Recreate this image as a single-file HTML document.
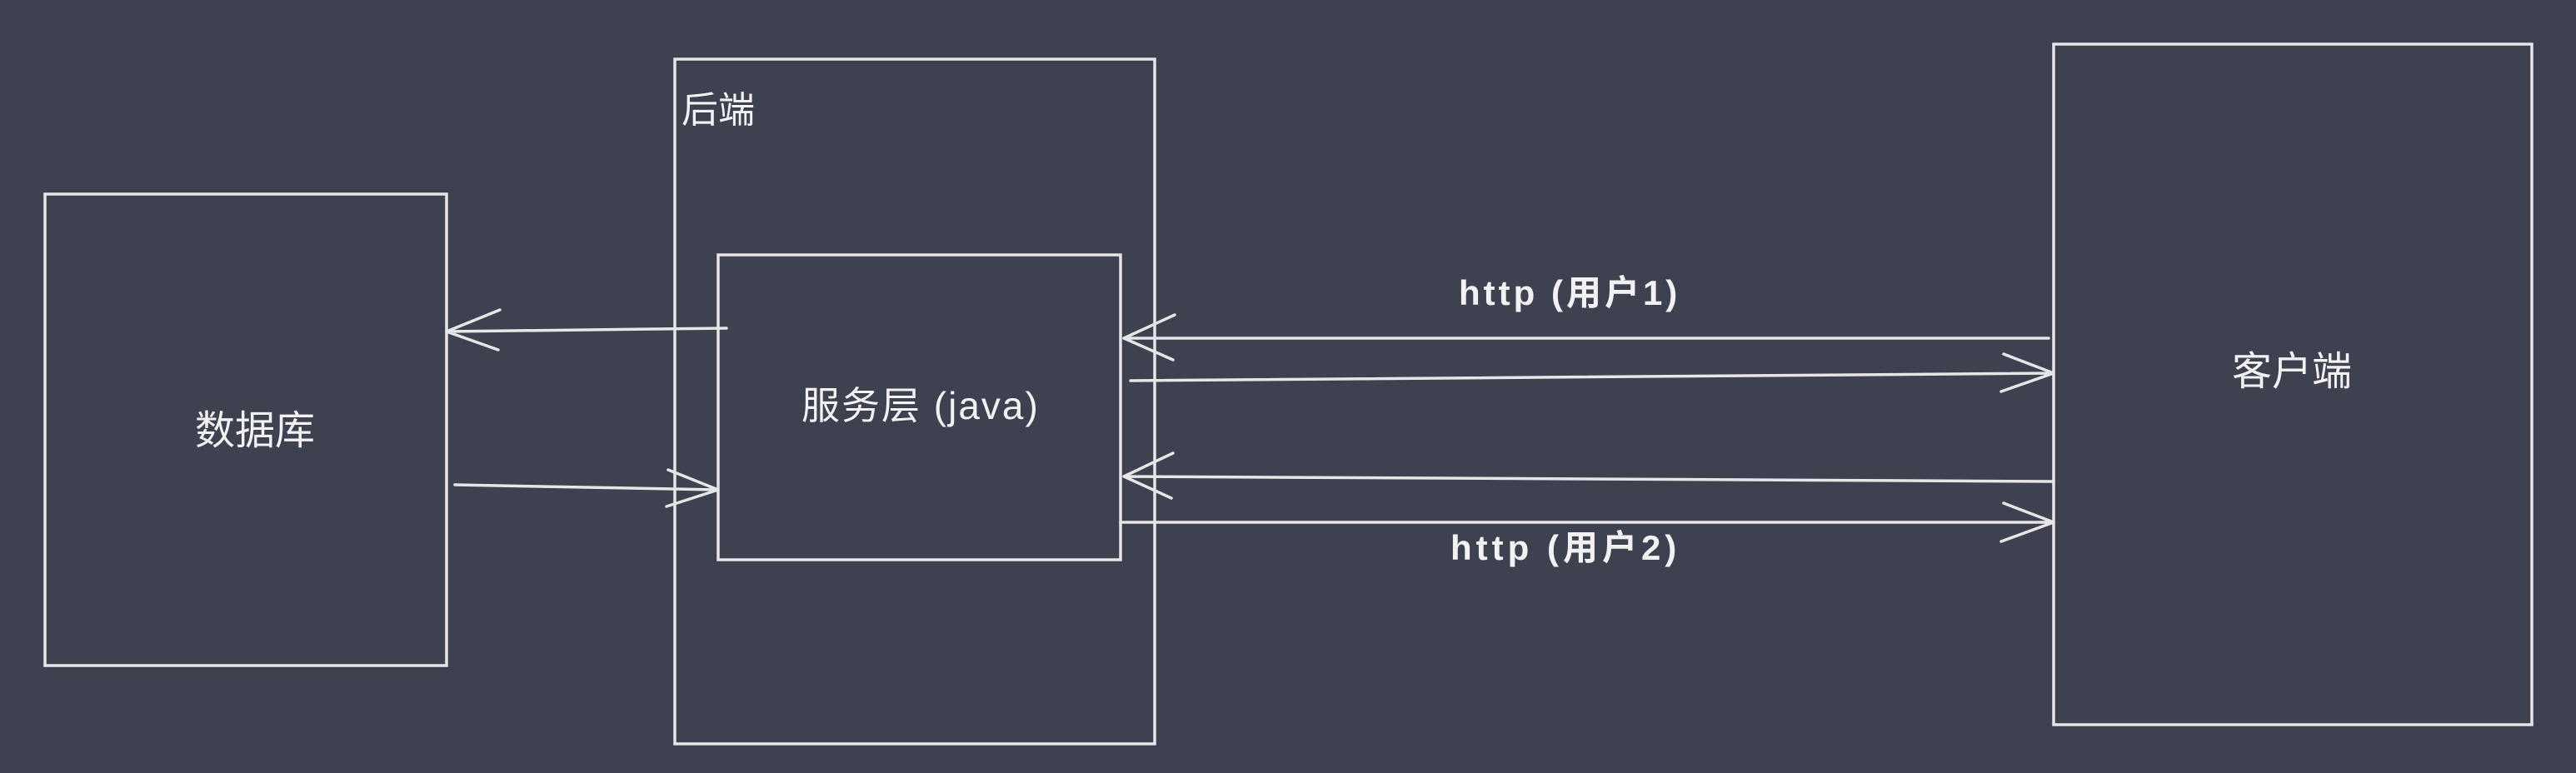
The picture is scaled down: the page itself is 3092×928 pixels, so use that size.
<!DOCTYPE html>
<html><head><meta charset="utf-8"><style>
html,body{margin:0;padding:0;background:#3e4150;}
svg{display:block}
text{font-family:"Liberation Sans","Noto Sans CJK SC",sans-serif;fill:#f2f2f2;}
</style></head><body>
<svg width="3092" height="928" viewBox="0 0 3092 928">
<rect width="3092" height="928" fill="#3e4150"/>
<g fill="none" stroke="#e6e6e6" stroke-width="3.5" stroke-linecap="round">
<rect x="54" y="233" width="482" height="566"/>
<rect x="810" y="71" width="576" height="822"/>
<rect x="862" y="306" width="483" height="366"/>
<rect x="2465" y="53" width="574" height="817"/>
<g><path d="M872 394 L536 398 M536 398 L600 372 M536 398 L598 420"/></g>
<g><path d="M546 582 L862 588 M862 588 L802 564 M862 588 L800 608"/></g>
<g><path d="M2459 406 L1349 406 M1349 406 L1410 378 M1349 406 L1408 432"/></g>
<g><path d="M1357 457 L2465 448 M2465 448 L2405 425 M2465 448 L2402 470"/></g>
<g><path d="M2465 578 L1349 572 M1349 572 L1408 544 M1349 572 L1406 598"/></g>
<g><path d="M1345 627 L2465 627 M2465 627 L2405 604 M2465 627 L2402 650"/></g>
</g>
<text x="818" y="147" font-size="44">后端</text>
<text x="306" y="533" font-size="48" text-anchor="middle">数据库</text>
<text x="962" y="503" font-size="46" letter-spacing="2">服务层 (java)</text>
<text x="2751" y="462" font-size="48" text-anchor="middle">客户端</text>
<text x="1751" y="366" font-size="42" font-weight="bold" letter-spacing="4">http (用户1)</text>
<text x="1741" y="672" font-size="42" font-weight="bold" letter-spacing="5">http (用户2)</text>
</svg>
</body></html>
